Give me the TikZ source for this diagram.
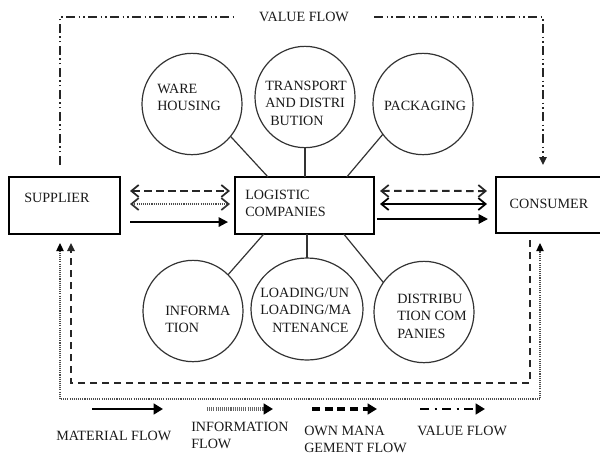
\documentclass[tikz,border=0pt]{standalone}
\usepackage{fontspec}
\setmainfont{Liberation Serif}
\usetikzlibrary{arrows.meta,shapes.geometric,calc}
\tikzset{
  myBarb/.tip={Straight Barb[length=5.5pt,width=9pt,line width=1.3pt]},
  myTri/.tip={Triangle[length=7pt,width=7pt]},
  mySmallTri/.tip={Triangle[length=6pt,width=5.5pt]},
  myLegTri/.tip={Triangle[length=7pt,width=8pt]}
}
\begin{document}
\begin{tikzpicture}[x=0.75pt,y=-0.75pt,
  txt/.style={font=\fontsize{10.6}{13}\selectfont, inner sep=0pt, align=left, text=black!90},
  boxnode/.style={draw, line width=1.5pt, minimum height=42.75pt, inner sep=0pt, outer sep=0pt},
  circ/.style={draw, ellipse, line width=0.9pt, minimum width=75pt, minimum height=76pt, inner sep=0pt, outer sep=0pt, black!80},
  spoke/.style={line width=0.9pt, black!80},
  matline/.style={line width=1.4pt},
  infoline/.style={line width=0.9pt, black!70, dash pattern=on 0.8pt off 0.8pt},
  ownline/.style={line width=1.5pt, black!85, dash pattern=on 5.5pt off 3.5pt},
  valline/.style={line width=1.1pt, black!85, dash pattern=on 7pt off 2.5pt on 1pt off 2.5pt on 1pt off 2.5pt}
]
\useasboundingbox (0,0) rectangle (600,455);

% main boxes
\node[boxnode, minimum width=83.25pt] (sup) at (64.5,205.5) {};
\node[boxnode, minimum width=104.25pt] (lc) at (304.5,205.5) {};
\node[boxnode, minimum width=81pt, minimum height=42pt] (con) at (550,205) {};
\node[txt, anchor=north west] (supt) at (24,193) {SUPPLIER};
\node[txt, anchor=north west] (lct) at (245,190) {LOGISTIC\\COMPANIES};
\node[txt] (cont) at (549,204) {CONSUMER};

% circles
\node[circ] (wh) at (192,104) {};
\node[circ] (tr) at (305,97) {};
\node[circ] (pk) at (423,104) {};
\node[circ] (inf) at (193,311) {};
\node[circ, minimum width=84pt, minimum height=76.5pt] (ld) at (307,309) {};
\node[circ] (dc) at (424,312) {};

\node[txt, anchor=north west] (wht) at (157,84) {WARE\\HOUSING};
\node[txt, anchor=north west] (trt) at (265,81) {TRANSPORT\\AND DISTRI\\\hspace*{3.75pt}BUTION};
\node[txt] (pkt) at (425,106) {PACKAGING};
\node[txt, anchor=north west] (inft) at (165,306) {INFORMA\\TION};
\node[txt, anchor=north west] (ldt) at (260,288) {LOADING/UN\\LOADING/MA\\\hspace*{9pt}NTENANCE};
\node[txt, anchor=north west] (dct) at (397,294) {DISTRIBU\\TION COM\\PANIES};

% spokes
\draw[spoke] (wh.320.5) -- (lc.142.8);
\draw[spoke] (tr.south) -- (tr.south |- lc.north);
\draw[spoke] (pk.217.1) -- (lc.34.5);
\draw[spoke] (inf.46.6) -- (lc.215.8);
\draw[spoke] (ld.north |- lc.south) -- (ld.north);
\draw[spoke] (dc.144.5) -- (lc.324.9);

% supplier <-> logistic
\draw[ownline, {myBarb}-{myBarb}, shorten <=7.5pt, shorten >=3.75pt]
  ([yshift=10.9pt]sup.east) -- ([yshift=10.9pt]lc.west);
\draw[infoline, {myBarb[black!80]}-{myBarb[black!80]}, shorten <=7.5pt, shorten >=3.75pt]
  ([yshift=1.1pt]sup.east) -- ([yshift=1.1pt]lc.west);
\draw[matline, -{myTri}, shorten <=7.5pt, shorten >=5.25pt]
  ([yshift=-12.4pt]sup.east) -- ([yshift=-12.4pt]lc.west);

% logistic <-> consumer
\draw[ownline, {myBarb}-{myBarb}, shorten <=4.5pt, shorten >=6.75pt]
  ([yshift=10.9pt]lc.east) -- ([yshift=10.5pt]con.west);
\draw[matline, {myBarb}-{myBarb}, shorten <=4.5pt, shorten >=6.75pt]
  ([yshift=1.1pt]lc.east) -- ([yshift=0.75pt]con.west);
\draw[matline, -{myTri}, shorten <=2.25pt, shorten >=6pt]
  ([yshift=-10.1pt]lc.east) -- ([yshift=-10.5pt]con.west);

% value flow (top)
\coordinate (vfA) at (60,165);
\coordinate (vfB) at (60,17);
\coordinate (vfC) at (543,17);
\coordinate (vfD) at (543,165);
\draw[valline, -{mySmallTri}] (vfA) -- (vfB) -- (vfC) -- (vfD);
\node[txt, fill=white, minimum width=100pt, minimum height=12pt] (vft) at (304,17) {VALUE FLOW};

% own management flow (bottom dashed)
\coordinate (omA) at (530,240);
\coordinate (omB) at (530,383);
\coordinate (omC) at (71,383);
\coordinate (omD) at (71,243);
\draw[ownline, line width=1.2pt, -{mySmallTri}] (omA) -- (omB) -- (omC) -- (omD);

% information flow (bottom dotted)
\coordinate (ifA) at (60,243);
\coordinate (ifB) at (60,399);
\coordinate (ifC) at (540,399);
\coordinate (ifD) at (540,243);
\draw[infoline, {mySmallTri[black]}-{mySmallTri[black]}] (ifA) -- (ifB) -- (ifC) -- (ifD);

% legend
\coordinate (lm1) at (92,409); \coordinate (lm2) at (163,409);
\coordinate (li1) at (207,409); \coordinate (li2) at (273,409);
\coordinate (lo1) at (312,409); \coordinate (lo2) at (377,409);
\coordinate (lv1) at (420,409); \coordinate (lv2) at (485,409);
\draw[line width=2pt, -{myLegTri}] (lm1) -- (lm2);
\draw[line width=2.5pt, black!60, dash pattern=on 0.8pt off 0.8pt, -{myLegTri[black]}] (li1) -- (li2);
\draw[line width=2.5pt, dash pattern=on 6pt off 3.5pt, -{myLegTri}] (lo1) -- (lo2);
\draw[line width=1.8pt, dash pattern=on 7pt off 4pt on 1.5pt off 4pt, -{myLegTri}] (lv1) -- (lv2);

\node[txt, anchor=north west] (lmt) at (56,431) {MATERIAL FLOW};
\node[txt, anchor=north west] (lit) at (191,422) {INFORMATION\\FLOW};
\node[txt, anchor=north west] (lot) at (304,426) {OWN MANA\\GEMENT FLOW};
\node[txt, anchor=north west] (lvt) at (417,426) {VALUE FLOW};
\end{tikzpicture}
\end{document}
